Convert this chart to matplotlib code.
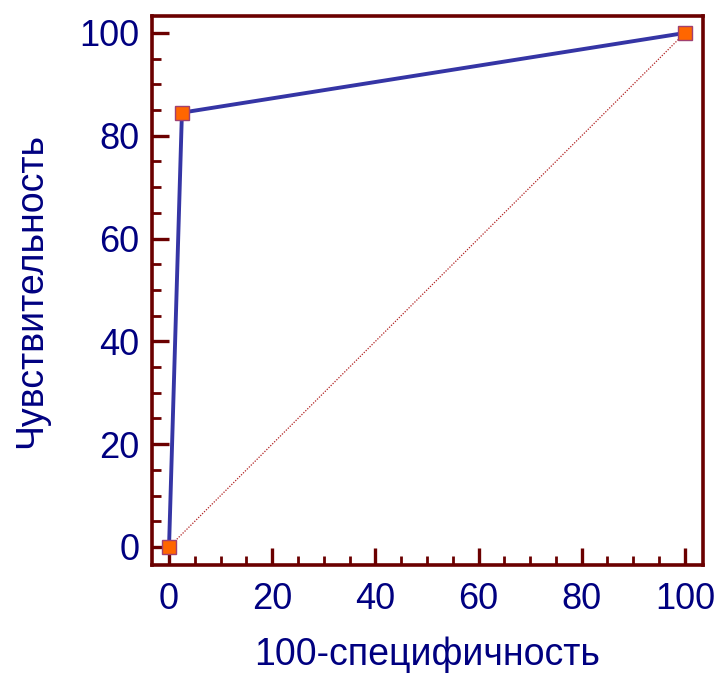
import matplotlib.pyplot as plt
from matplotlib.ticker import MultipleLocator

# ROC-кривая
fpr = [0, 2.5, 100]
tpr = [0, 84.5, 100]
diag = [0, 100]

spine_col = '#6b0000'
text_col = '#000080'

plt.rcParams['font.family'] = ['Liberation Sans', 'DejaVu Sans']

fig = plt.figure(figsize=(7.18, 6.73), dpi=100)
ax = fig.add_axes([0.2117, 0.1605, 0.979 - 0.2117, 0.9762 - 0.1605])

ax.plot(diag, diag, linestyle=(0, (1, 1.2)), color='#b02020', linewidth=0.9, zorder=2)
ax.plot(fpr, tpr, color='#3535a5', linewidth=2.8, zorder=3,
        marker='s', markersize=9.5, markerfacecolor='#ff6600',
        markeredgecolor='#a04070', markeredgewidth=1.0, clip_on=False)

ax.set_xlim(-3.3, 103.5)
ax.set_ylim(-3.5, 103.3)

ax.xaxis.set_major_locator(MultipleLocator(20))
ax.xaxis.set_minor_locator(MultipleLocator(5))
ax.yaxis.set_major_locator(MultipleLocator(20))
ax.yaxis.set_minor_locator(MultipleLocator(5))

for s in ax.spines.values():
    s.set_color(spine_col)
    s.set_linewidth(2.6)

ax.tick_params(which='major', direction='in', length=12, width=2.4,
               color=spine_col, labelsize=26, labelcolor=text_col)
ax.tick_params(which='minor', direction='in', length=6.5, width=2.0, color=spine_col)
ax.tick_params(axis='x', which='major', pad=12)
ax.tick_params(axis='y', which='major', pad=9)

ax.set_xlabel('100-специфичность', fontsize=27, color=text_col, labelpad=14)
ax.set_ylabel('Чувствительность', fontsize=27, color=text_col, labelpad=22)

fig.savefig('out.png', dpi=100)
